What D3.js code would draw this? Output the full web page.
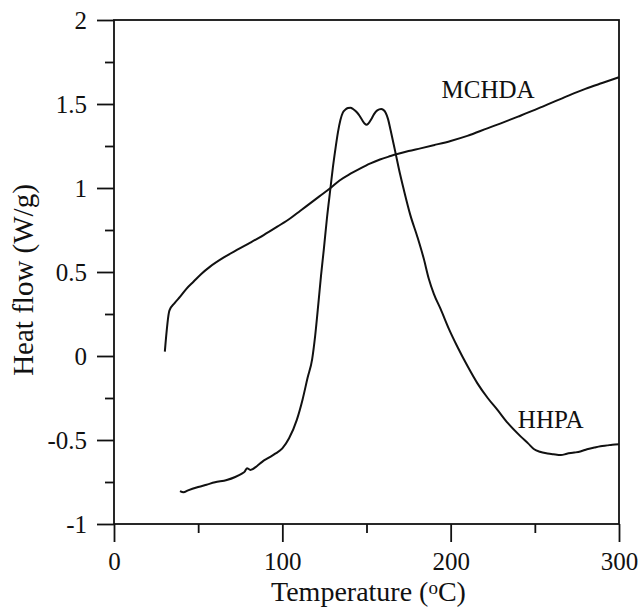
<!DOCTYPE html>
<html>
<head>
<meta charset="utf-8">
<script src="https://cdn.jsdelivr.net/npm/d3@7"></script>
<style>
  body { margin: 0; background: #fff; }
</style>
</head>
<body>
<div id="chart"></div>
<script>
// MCHDA curve (temperature in oC, heat flow in W/g)
const mchdaT = [30.2, 32.9, 36, 39.3, 43, 47.2, 52, 57.1, 65, 73, 81, 88.9, 97, 104.8, 110.7, 116.7, 122, 128.6, 134, 140.5,
    146.4, 152, 158, 164.3, 168.3, 175, 182.1, 190, 200, 209.9, 221.8, 229.8, 240, 250, 261.5, 270, 280, 290, 300];
const mchdaHF = [0.026, 0.27, 0.315, 0.353, 0.40, 0.442, 0.49, 0.532, 0.585, 0.631, 0.675, 0.72, 0.77, 0.82, 0.865, 0.91, 0.95, 1.0, 1.045, 1.085,
    1.117, 1.145, 1.17, 1.19, 1.202, 1.22, 1.236, 1.255, 1.28, 1.31, 1.355, 1.385, 1.425, 1.465, 1.514, 1.55, 1.59, 1.625, 1.659];

// HHPA curve
const hhpaT = [39.2, 41.3, 44, 50, 55, 60, 67, 72, 76, 77.5, 79, 81, 85, 88, 92, 96, 100, 104, 108.6, 112,
    115, 117.7, 119.5, 121.6, 123, 124.6, 126.5, 128.6, 130, 131.5, 133, 134.5, 136, 137.5, 139, 140.5, 142, 143.5, 145.5, 147.4,
    149, 150, 151, 152.8, 154.5, 156.4, 158.7, 160, 161.3, 162.8, 164.3, 167.3, 170, 172.2, 176, 180.2, 184, 187, 190, 194,
    199, 204, 210, 215.9, 222, 227.8, 234, 241.7, 246, 249.6, 253, 257.5, 261, 265.5, 269, 273.4, 277, 281, 285.3, 289,
    293, 296, 300];
const hhpaHF = [-0.804, -0.811, -0.80, -0.78, -0.766, -0.752, -0.738, -0.72, -0.70, -0.69, -0.668, -0.678, -0.655, -0.63, -0.605, -0.58, -0.55, -0.49, -0.38, -0.26,
    -0.13, -0.02, 0.12, 0.333, 0.48, 0.63, 0.82, 1.0, 1.12, 1.23, 1.33, 1.405, 1.45, 1.467, 1.476, 1.478, 1.47, 1.458, 1.435, 1.405,
    1.382, 1.376, 1.382, 1.409, 1.44, 1.462, 1.47, 1.465, 1.45, 1.41, 1.345, 1.206, 1.08, 0.988, 0.84, 0.71, 0.58, 0.46, 0.37, 0.28,
    0.16, 0.055, -0.06, -0.163, -0.25, -0.321, -0.40, -0.48, -0.52, -0.555, -0.57, -0.58, -0.585, -0.59, -0.582, -0.575, -0.568, -0.555, -0.545, -0.537,
    -0.532, -0.528, -0.526];

const xMajor = [0, 100, 200, 300];
const xMinor = [50, 150, 250];
const yMajor = [-1, -0.5, 0, 0.5, 1, 1.5, 2];
const yMinor = [-0.75, -0.25, 0.25, 0.75, 1.25, 1.75];

const curveLabels = [
    { name: "MCHDA", t: 194.6, hf: 1.536 },
    { name: "HHPA", t: 239.9, hf: -0.43 }
];

const serif = '"Liberation Serif", "DejaVu Serif", "Times New Roman", Times, serif';

const width = 642, height = 608;
const margin = { top: 20, right: 23, bottom: 84, left: 114 };

const x = d3.scaleLinear().domain([0, 300]).range([margin.left, width - margin.right]);
const y = d3.scaleLinear().domain([-1, 2]).range([height - margin.bottom, margin.top]);

const svg = d3.create("svg")
    .attr("width", width)
    .attr("height", height)
    .attr("font-family", serif);

// frame
svg.append("rect")
    .attr("x", x(0)).attr("y", y(2))
    .attr("width", x(300) - x(0)).attr("height", y(-1) - y(2))
    .attr("fill", "none").attr("stroke", "#111").attr("stroke-width", 1.8);

const fmt = d => String(d);

// x axis
const gx = svg.append("g")
    .attr("transform", `translate(0,${y(-1)})`)
    .call(d3.axisBottom(x).tickValues(xMajor).tickSize(18).tickFormat(fmt));
gx.selectAll("text").attr("dy", null).attr("y", 46).attr("font-size", 25);
svg.append("g")
    .attr("transform", `translate(0,${y(-1)})`)
    .call(d3.axisBottom(x).tickValues(xMinor).tickSize(9).tickFormat(""));

// y axis
const gy = svg.append("g")
    .attr("transform", `translate(${x(0)},0)`)
    .call(d3.axisLeft(y).tickValues(yMajor).tickSize(17).tickPadding(10).tickFormat(fmt));
gy.selectAll("text").attr("font-size", 25).attr("dy", "0.33em");
svg.append("g")
    .attr("transform", `translate(${x(0)},0)`)
    .call(d3.axisLeft(y).tickValues(yMinor).tickSize(9).tickFormat(""));

svg.selectAll(".domain").remove();
svg.selectAll(".tick line").attr("stroke", "#111").attr("stroke-width", 1.8);
svg.selectAll("g").attr("font-family", serif);
svg.selectAll(".tick text").attr("fill", "#111");

// axis titles
const xt = svg.append("text")
    .attr("x", (x(0) + x(300)) / 2 + 2)
    .attr("y", 601)
    .attr("text-anchor", "middle")
    .attr("font-size", 28)
    .attr("fill", "#111");
xt.append("tspan").text("Temperature (");
xt.append("tspan").attr("font-size", 19).attr("dy", -7).text("o");
xt.append("tspan").attr("dy", 7).text("C)");

svg.append("text")
    .attr("transform", `translate(33,${(y(-1) + y(2)) / 2 + 8}) rotate(-90)`)
    .attr("text-anchor", "middle")
    .attr("font-size", 29)
    .attr("fill", "#111")
    .text("Heat flow (W/g)");

// curves
const line = d3.line()
    .x(d => x(d[0]))
    .y(d => y(d[1]))
    .curve(d3.curveMonotoneX);

const series = [
    d3.zip(mchdaT, mchdaHF),
    d3.zip(hhpaT, hhpaHF)
];

svg.append("g")
    .selectAll("path")
    .data(series)
    .join("path")
    .attr("d", line)
    .attr("fill", "none")
    .attr("stroke", "#111")
    .attr("stroke-width", 2)
    .attr("stroke-linejoin", "round");

svg.append("g")
    .selectAll("text")
    .data(curveLabels)
    .join("text")
    .attr("x", d => x(d.t))
    .attr("y", d => y(d.hf))
    .attr("font-size", 25)
    .attr("fill", "#111")
    .text(d => d.name);

document.getElementById("chart").appendChild(svg.node());
</script>
</body>
</html>
